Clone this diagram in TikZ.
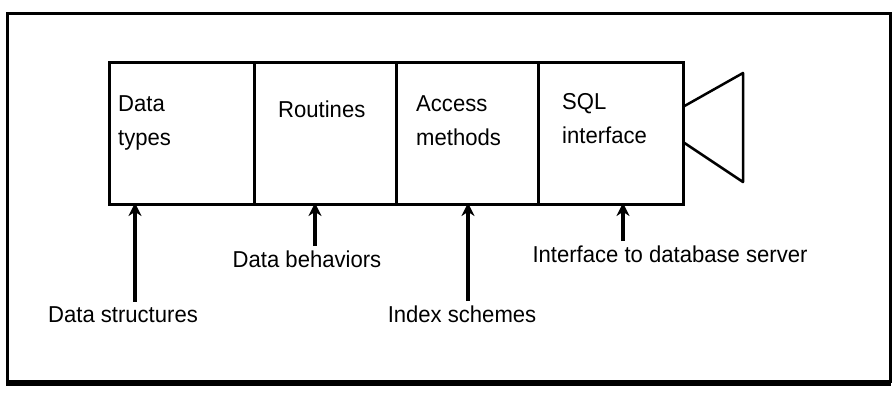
\documentclass[tikz,border=0pt]{standalone}
\usepackage{fontspec}
\setmainfont[FakeStretch=0.96]{Liberation Sans}
\usetikzlibrary{arrows.meta}
\begin{document}
\begin{tikzpicture}[x=1pt,y=-1pt,
  every node/.style={font=\fontsize{23}{34}\selectfont, inner sep=0pt},
  cell/.style={draw, line width=2.5pt, minimum height=142pt, anchor=north west},
  celltext/.style={anchor=base west, align=left},
  lbl/.style={anchor=base},
  arr/.style={line width=4pt, -{Stealth[length=13pt,width=13pt]}},
  frame/.style={line width=3pt}]
\useasboundingbox (0,0) rectangle (895,394);
\fill[white] (0,0) rectangle (895,394);
% outer frame
\draw[frame] (7,13) rectangle (890,381);
\draw[line width=6pt] (6,383) -- (891,383);
% the four cells of the box
\node[cell, minimum width=145pt] (c1) at (108,61) {};
\node[cell, minimum width=142pt] (c2) at (253,61) {};
\node[cell, minimum width=142pt] (c3) at (395,61) {};
\node[cell, minimum width=145pt] (c4) at (537,61) {};
% cell captions (base anchor sits on the last line)
\node[celltext] (t1) at (118,145) {Data\\types};
\node[celltext] (t2) at (278,117) {Routines};
\node[celltext] (t3) at (416,145) {Access\\methods};
\node[celltext] (t4) at (562,143) {SQL\\interface};
% speaker-like funnel on the right
\draw[line width=2.5pt, line join=round] (c4.east |- 0,106) -- (743,73) -- (743,182) -- (c4.east |- 0,143);
% arrow targets on the box bottom
\coordinate (p1) at (135,203);
\coordinate (p2) at (315,203);
\coordinate (p3) at (468,203);
\coordinate (p4) at (623,203);
% labels below the box
\node[lbl] (l1) at (123,322) {Data structures};
\node[lbl] (l2) at (307,267) {Data behaviors};
\node[lbl] (l3) at (462,322) {Index schemes};
\node[lbl] (l4) at (670,262) {Interface to database server};
% arrows
\draw[arr] (l1.north -| p1) ++(0,-4) -- (p1);
\draw[arr] (l2.north -| p2) ++(0,-4) -- (p2);
\draw[arr] (l3.north -| p3) ++(0,-4) -- (p3);
\draw[arr] (l4.north -| p4) ++(0,-4) -- (p4);
\end{tikzpicture}
\end{document}
